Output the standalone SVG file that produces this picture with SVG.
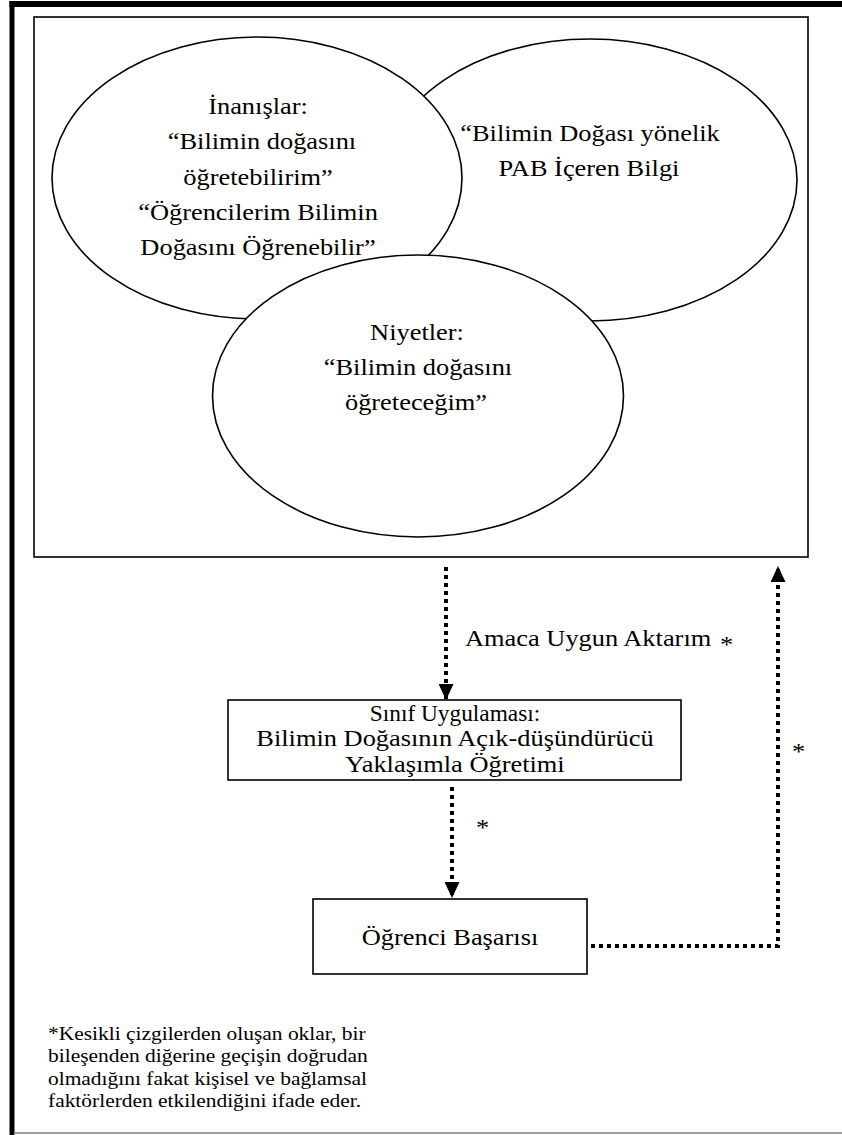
<svg xmlns="http://www.w3.org/2000/svg" width="842" height="1135" viewBox="0 0 842 1135">
<style>
.t{font-family:"Liberation Serif","Times New Roman",serif;font-size:24px;fill:#000;text-anchor:middle}
.s{font-family:"Liberation Serif","Times New Roman",serif;font-size:24px;fill:#000;text-anchor:start}
.f{font-family:"Liberation Serif","Times New Roman",serif;font-size:19.5px;fill:#000;text-anchor:start}
.shape{fill:#fff;stroke:#000;stroke-width:1.6}
.dot{fill:none;stroke:#000;stroke-width:4;stroke-dasharray:4 4}
</style>
<defs>
<marker id="ah" markerUnits="userSpaceOnUse" viewBox="0 0 16 15" markerWidth="16" markerHeight="15" refX="16" refY="7.5" orient="auto">
<path d="M0,0 L16,7.5 L0,15 Z" fill="#000"/>
</marker>
</defs>
<rect width="842" height="1135" fill="#fff"/>
<g id="frame">
<rect x="9.5" y="1" width="832.5" height="6" fill="#000"/>
<rect x="9.5" y="1" width="5" height="1134" fill="#000"/>
<line x1="14.5" y1="1133" x2="842" y2="1133" stroke="#9a9a9a" stroke-width="2"/>
</g>
<g id="container">
<rect class="shape" x="34" y="17" width="774" height="540"/>
</g>
<g id="node-pab">
<ellipse class="shape" cx="590" cy="180" rx="207" ry="141"/>
</g>
<g id="node-inanislar">
<ellipse class="shape" cx="257" cy="178" rx="205" ry="141"/>
<text class="t" transform="translate(258,0) scale(1.1,1)" x="0" y="114">İnanışlar:</text>
<text class="t" transform="translate(262,0) scale(1.1,1)" x="0" y="149.5">“Bilimin doğasını</text>
<text class="t" transform="translate(258,0) scale(1.1,1)" x="0" y="185">öğretebilirim”</text>
<text class="t" transform="translate(258,0) scale(1.1,1)" x="0" y="220">“Öğrencilerim Bilimin</text>
<text class="t" transform="translate(258,0) scale(1.1,1)" x="0" y="255.5">Doğasını Öğrenebilir”</text>
</g>
<g id="node-pab-text">
<text class="t" transform="translate(590,0) scale(1.1,1)" x="0" y="141">“Bilimin Doğası yönelik</text>
<text class="t" transform="translate(589,0) scale(1.1,1)" x="0" y="176.5">PAB İçeren Bilgi</text>
</g>
<g id="node-niyetler">
<ellipse class="shape" cx="418" cy="396" rx="205.5" ry="141"/>
<text class="t" transform="translate(417,0) scale(1.1,1)" x="0" y="340">Niyetler:</text>
<text class="t" transform="translate(418,0) scale(1.1,1)" x="0" y="375">“Bilimin doğasını</text>
<text class="t" transform="translate(416,0) scale(1.1,1)" x="0" y="410">öğreteceğim”</text>
</g>
<g id="node-sinif">
<rect class="shape" x="228" y="700" width="453" height="80"/>
<text class="t" transform="translate(455,0) scale(1.1,1)" x="0" y="721" textLength="155" lengthAdjust="spacingAndGlyphs">Sınıf Uygulaması:</text>
<text class="t" transform="translate(455,0) scale(1.1,1)" x="0" y="746.5">Bilimin Doğasının Açık-düşündürücü</text>
<text class="t" transform="translate(455,0) scale(1.1,1)" x="0" y="772">Yaklaşımla Öğretimi</text>
</g>
<g id="node-basari">
<rect class="shape" x="313" y="899" width="274" height="75"/>
<text class="t" transform="translate(450,0) scale(1.1,1)" x="0" y="945">Öğrenci Başarısı</text>
</g>
<g id="connectors">
<line class="dot" x1="446" y1="567" x2="446" y2="700" marker-end="url(#ah)"/>
<line class="dot" x1="452" y1="787" x2="452" y2="898" marker-end="url(#ah)"/>
<polyline class="dot" points="591,946 778,946 778,566" marker-end="url(#ah)"/>
<text class="s" transform="translate(465,0) scale(1.1,1)" x="0" y="646">Amaca Uygun Aktarım</text>
<text class="s" transform="translate(720,0) scale(1.1,1)" x="0" y="652">*</text>
<text class="s" transform="translate(476,0) scale(1.1,1)" x="0" y="835">*</text>
<text class="s" transform="translate(792,0) scale(1.1,1)" x="0" y="759">*</text>
</g>
<g id="footnote">
<text class="f" transform="translate(48,0) scale(1.1,1)" x="0" y="1040">*Kesikli çizgilerden oluşan oklar, bir</text>
<text class="f" transform="translate(48,0) scale(1.1,1)" x="0" y="1062.5">bileşenden diğerine geçişin doğrudan</text>
<text class="f" transform="translate(48,0) scale(1.1,1)" x="0" y="1085">olmadığını fakat kişisel ve bağlamsal</text>
<text class="f" transform="translate(48,0) scale(1.1,1)" x="0" y="1107.5">faktörlerden etkilendiğini ifade eder.</text>
</g>
</svg>
